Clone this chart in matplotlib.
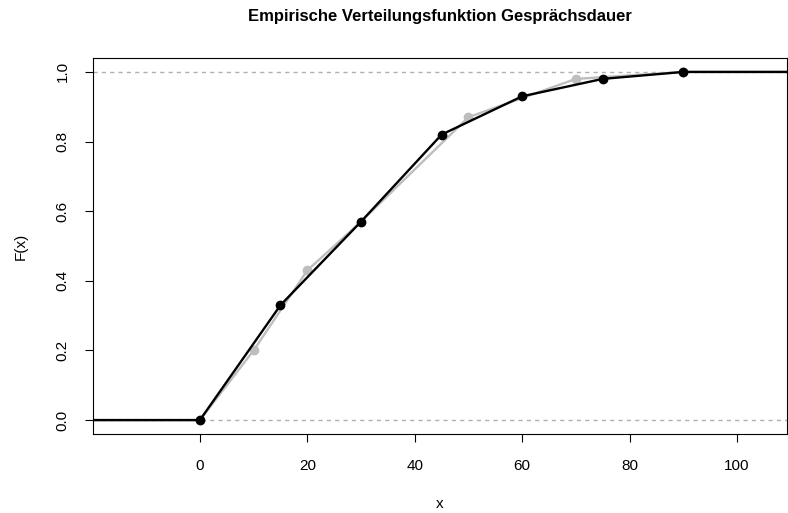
import matplotlib
matplotlib.use("Agg")
import matplotlib.pyplot as plt

plt.rcParams['font.family'] = ['Liberation Sans', 'DejaVu Sans']

# gray: class midpoints / finer grid
x_gray = [0, 10, 20, 30, 50, 70, 90]
F_gray = [0.0, 0.20, 0.43, 0.57, 0.87, 0.98, 1.0]
# black: class boundaries
x_emp = [0, 15, 30, 45, 60, 75, 90]
F_emp = [0.0, 0.33, 0.57, 0.82, 0.93, 0.98, 1.0]

fig = plt.figure(figsize=(7.88, 5.13), dpi=100)
ax = fig.add_axes([93/788, 1-434/513, (787-93)/788, (434-58)/513])
xlo, xhi = -19.9, 109.3
ax.axhline(0, color='#b0b0b0', ls=(0, (3, 3)), lw=1)
ax.axhline(1, color='#b0b0b0', ls=(0, (3, 3)), lw=1)
ax.plot([xlo] + x_gray + [xhi], [0] + F_gray + [1], color='#bebebe', lw=1.7)
ax.plot(x_gray, F_gray, 'o', color='#bebebe', ms=6)
ax.plot([xlo] + x_emp + [xhi], [0] + F_emp + [1], color='black', lw=1.7)
ax.plot(x_emp, F_emp, 'o', color='black', ms=6)
ax.set_xlim(xlo, xhi)
ax.set_ylim(-0.04, 1.04)
ax.set_xticks([0, 20, 40, 60, 80, 100])
ax.set_yticks([0, 0.2, 0.4, 0.6, 0.8, 1.0])
ax.set_yticklabels(['0.0', '0.2', '0.4', '0.6', '0.8', '1.0'], rotation=90, va='center')
ax.tick_params(labelsize=11, length=6)
ax.tick_params(axis='x', pad=12)
ax.tick_params(axis='y', pad=11)
ax.set_xlabel('x', fontsize=11, labelpad=17)
ax.set_ylabel('F(x)', fontsize=11, labelpad=20)
fig.text(440/788, 1-16/513, 'Empirische Verteilungsfunktion Gesprächsdauer',
         fontsize=12, fontweight='bold', ha='center', va='center')
fig.savefig('out.png', dpi=100)
